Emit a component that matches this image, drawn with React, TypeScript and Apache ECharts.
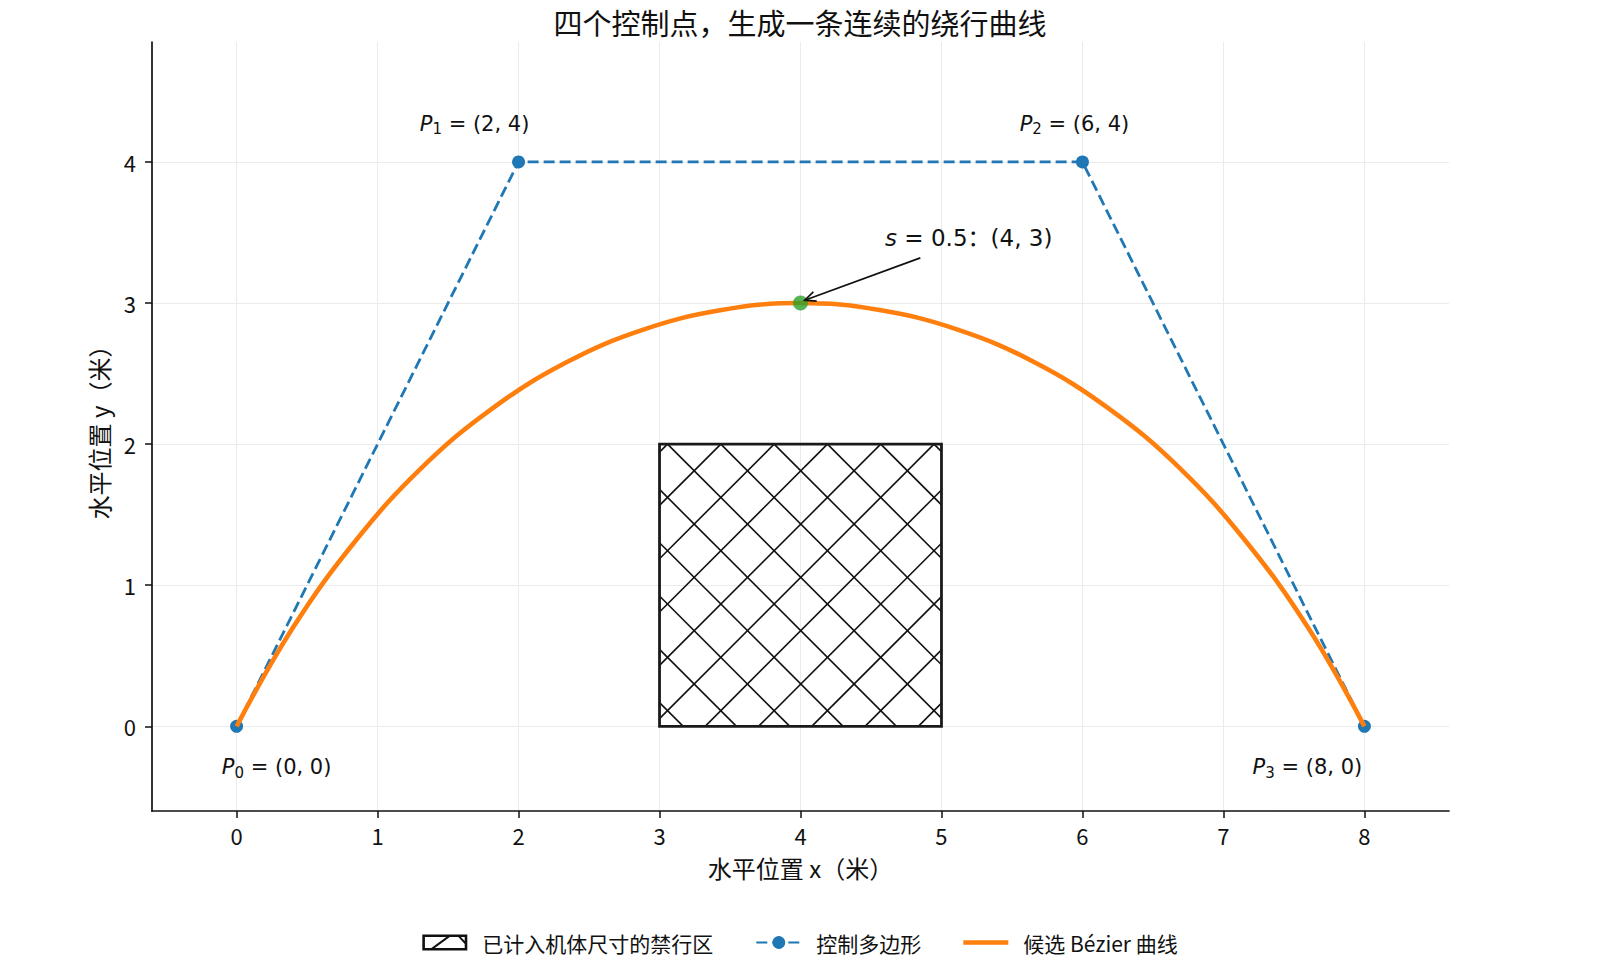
import React, { useEffect, useRef } from "react";
import * as echarts from "echarts";

const titleText = "四个控制点，生成一条连续的绕行曲线";
const xName = "水平位置 x（米）";
const yName = "水平位置 y（米）";
const zoneName = "已计入机体尺寸的禁行区";
const polygonName = "控制多边形";
const curveName = "候选 Bézier 曲线";

const xTicks = [0, 1, 2, 3, 4, 5, 6, 7, 8];
const yTicks = [0, 1, 2, 3, 4];

// control points P0..P3
const controlX = [0, 2, 6, 8];
const controlY = [0, 4, 4, 0];
const controlIdx = ["0", "1", "2", "3"];

// curve points
const curveX = [0, 0.4, 0.84, 1.31, 1.81, 2.34, 2.88, 3.44, 4, 4.56, 5.12, 5.66, 6.19, 6.69, 7.16, 7.6, 8];
const curveY = [0, 0.7, 1.31, 1.83, 2.25, 2.58, 2.81, 2.95, 3, 2.95, 2.81, 2.58, 2.25, 1.83, 1.31, 0.7, 0];

// s = 0.5 point and its note
const midPoint = [4, 3];
const midNote = " = 0.5：(4, 3)";
const notePos = [4.6, 3.46];
const arrowFromTo = [4.85, 3.32, 4.03, 3.02];

// no-go zone: x0, y0, x1, y1
const zone = [3, 0, 5, 2];

const MATH = "'DejaVu Sans', 'Noto Sans CJK SC'";
const CJK = "'Noto Sans CJK SC', 'Noto Sans', sans-serif";

// label offsets in px for P0..P3
const labelOffsets = [[40, 41], [-44, -38], [-8, -38], [-57, 41]];

const zoneIcon =
  "path://M0 0H45V2.6H0Z M0 13.4H45V16H0Z M0 0H2.6V16H0Z M42.4 0H45V16H42.4Z " +
  "M9 13.4L24 2.6H27.5L12.5 13.4Z M36 2.6H38.6L42.4 6.5V9.5Z";
const curveIcon = "path://M0 0H0.01V0.01H0Z M0 5.8H45V10.2H0Z M44.99 15.99H45V16H44.99Z";

const App = () => {
  const chartContainer = useRef<HTMLDivElement>(null);
  const myChart = useRef<echarts.ECharts | null>(null);

  useEffect(() => {
    if (!chartContainer.current) return;
    myChart.current = echarts.init(chartContainer.current, null, { renderer: "svg" });

    const richMath = {
      p: { fontFamily: MATH, fontStyle: "italic", fontSize: 21, color: "#111", lineHeight: 26, verticalAlign: "middle" },
      sub: { fontFamily: MATH, fontSize: 15, color: "#111", lineHeight: 14, verticalAlign: "bottom" },
      t: { fontFamily: MATH, fontSize: 21, color: "#111", lineHeight: 26, verticalAlign: "middle" },
    };

    const option: echarts.EChartsOption = {
      animation: false,
      backgroundColor: "#fff",
      title: {
        text: titleText,
        left: "center",
        top: 7,
        padding: 0,
        textStyle: { fontFamily: CJK, fontSize: 29, fontWeight: "normal", color: "#111" },
      },
      grid: { left: 152, right: 151, top: 42, bottom: 165, containLabel: false },
      legend: {
        bottom: 18,
        left: "center",
        itemWidth: 45,
        itemHeight: 16,
        itemGap: 42,
        textStyle: { fontFamily: CJK, fontSize: 21, color: "#111", padding: [0, 0, 0, 10] },
        data: [
          { name: zoneName, icon: zoneIcon },
          { name: polygonName },
          { name: curveName, icon: curveIcon },
        ],
      },
      xAxis: {
        type: "value",
        min: -0.6,
        max: 8.6,
        name: xName,
        nameLocation: "middle",
        nameGap: 44,
        nameTextStyle: { fontFamily: CJK, fontSize: 24, color: "#111" },
        axisLine: { onZero: false, lineStyle: { color: "#111", width: 1.7 } },
        axisTick: { show: true, length: 7, customValues: xTicks, lineStyle: { color: "#111", width: 1.5 } },
        axisLabel: { customValues: xTicks, margin: 13, fontFamily: CJK, fontSize: 22, color: "#111" },
        splitLine: { show: true, lineStyle: { color: "#ebebeb", width: 1 } },
      },
      yAxis: {
        type: "value",
        min: -0.6,
        max: 4.85,
        name: yName,
        nameLocation: "middle",
        nameGap: 42,
        nameTextStyle: { fontFamily: CJK, fontSize: 24, color: "#111" },
        axisLine: { onZero: false, lineStyle: { color: "#111", width: 1.7 } },
        axisTick: { show: true, length: 7, customValues: yTicks, lineStyle: { color: "#111", width: 1.5 } },
        axisLabel: { customValues: yTicks, margin: 16, fontFamily: CJK, fontSize: 22, color: "#111" },
        splitLine: { show: true, lineStyle: { color: "#ebebeb", width: 1 } },
      },
      series: [
        {
          name: zoneName,
          type: "custom",
          z: 2,
          itemStyle: { color: "#111" },
          encode: { x: [0, 2], y: [1, 3] },
          data: [zone],
          renderItem: (params: any, api: any) => {
            const tl = api.coord([api.value(0), api.value(3)]);
            const br = api.coord([api.value(2), api.value(1)]);
            const x0 = tl[0], y0 = tl[1], x1 = br[0], y1 = br[1];
            const step = 53.3;
            const base = x0 + 8;
            const hatch = { stroke: "#111", lineWidth: 1.6, fill: null };
            const children: any[] = [];
            for (let k = -14; k <= 14; k++) {
              const c = base - y0 + k * step;
              let xs = Math.max(x0, y0 + c);
              let xe = Math.min(x1, y1 + c);
              if (xe - xs > 0.5) {
                children.push({ type: "line", shape: { x1: xs, y1: xs - c, x2: xe, y2: xe - c }, style: hatch });
              }
              const d = base + y0 + k * step;
              xs = Math.max(x0, d - y1);
              xe = Math.min(x1, d - y0);
              if (xe - xs > 0.5) {
                children.push({ type: "line", shape: { x1: xs, y1: d - xs, x2: xe, y2: d - xe }, style: hatch });
              }
            }
            children.push({
              type: "rect",
              shape: { x: x0, y: y0, width: x1 - x0, height: y1 - y0 },
              style: { fill: "none", stroke: "#1a1a1a", lineWidth: 2.8 },
            });
            return { type: "group", children };
          },
        },
        {
          name: polygonName,
          type: "line",
          z: 3,
          color: "#1f77b4",
          symbol: "circle",
          symbolSize: 13,
          lineStyle: { color: "#1f77b4", width: 2.8, type: [11, 5] },
          itemStyle: { color: "#1f77b4" },
          data: controlX.map((x, i) => ({
            value: [x, controlY[i]],
            label: {
              show: true,
              position: "inside",
              offset: labelOffsets[i],
              formatter: `{p|P}{sub|${controlIdx[i]}}{t| = (${x}, ${controlY[i]})}`,
              rich: richMath,
            },
          })),
        },
        {
          name: curveName,
          type: "line",
          z: 4,
          color: "#ff7f0e",
          symbol: "none",
          smooth: 0.4,
          lineStyle: { color: "#ff7f0e", width: 4.6 },
          data: curveX.map((x, i) => [x, curveY[i]]),
        },
        {
          name: "s=0.5",
          type: "scatter",
          z: 5,
          symbolSize: 15,
          itemStyle: { color: "#2ca02c" },
          data: [midPoint],
        },
        {
          name: "note",
          type: "custom",
          z: 6,
          data: [arrowFromTo],
          renderItem: (params: any, api: any) => {
            const a = api.coord([api.value(0), api.value(1)]);
            const b = api.coord([api.value(2), api.value(3)]);
            const ang = Math.atan2(a[1] - b[1], a[0] - b[0]);
            const hl = 12, spread = 0.42;
            const h1 = [b[0] + hl * Math.cos(ang + spread), b[1] + hl * Math.sin(ang + spread)];
            const h2 = [b[0] + hl * Math.cos(ang - spread), b[1] + hl * Math.sin(ang - spread)];
            const t = api.coord(notePos);
            return {
              type: "group",
              children: [
                { type: "line", shape: { x1: a[0], y1: a[1], x2: b[0], y2: b[1] }, style: { stroke: "#111", lineWidth: 1.7 } },
                { type: "polyline", shape: { points: [h1, b, h2] }, style: { stroke: "#111", lineWidth: 1.7, fill: null } },
                {
                  type: "text",
                  x: t[0],
                  y: t[1],
                  style: {
                    text: `{i|s}{n|${midNote}}`,
                    align: "left",
                    verticalAlign: "middle",
                    rich: {
                      i: { fontFamily: MATH, fontStyle: "italic", fontSize: 23, fill: "#111" },
                      n: { fontFamily: MATH, fontSize: 23, fill: "#111" },
                    },
                  },
                },
              ],
            };
          },
        },
      ],
    };

    myChart.current.setOption(option);

    return () => {
      if (myChart.current) {
        myChart.current.dispose();
        myChart.current = null;
      }
    };
  }, []);

  return (
    <div
      ref={chartContainer}
      style={{ position: "fixed", left: 0, top: 0, width: 1600, height: 976, background: "#fff" }}
    />
  );
};

export default App;
